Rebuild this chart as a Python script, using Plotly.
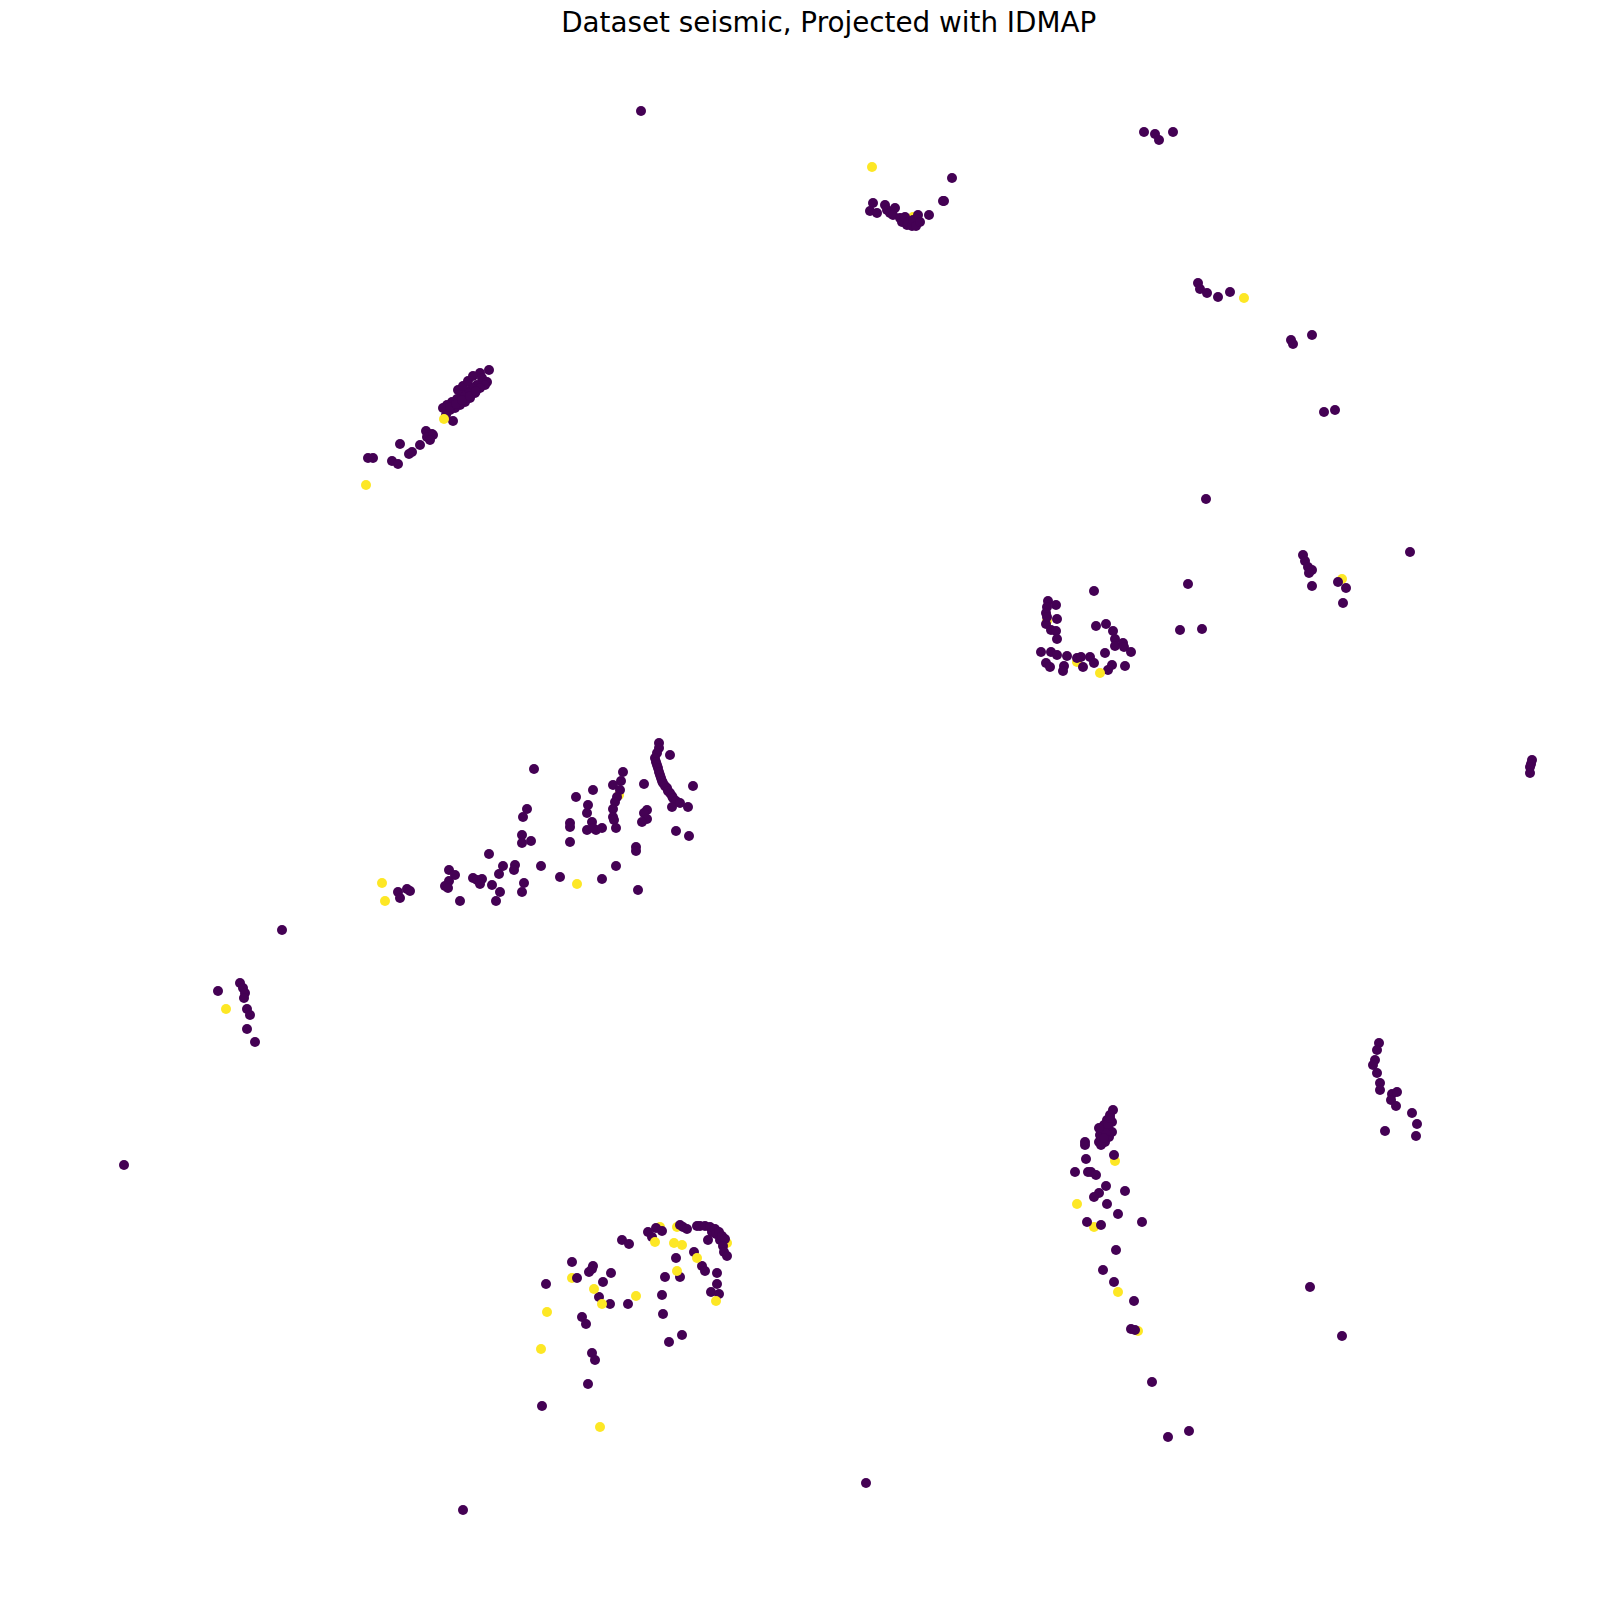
import plotly.graph_objects as go

# Projected coordinates (IDMAP); class 0 = purple, class 1 = yellow
x_c0 = [641, 1144, 1155, 1159, 1173,
        873, 870, 877, 885, 887, 890, 895, 893, 900, 902, 905, 907, 908, 912, 913, 916, 918, 920, 929, 943, 952, 944,
        1198, 1200, 1207, 1218, 1230, 1291, 1293, 1312, 1324, 1335, 1206,
        368, 373, 392, 398, 400, 409, 412, 420, 426, 432, 427, 433, 430,
        489, 480, 482, 487, 485, 477, 480, 472, 475, 467, 470, 462, 465, 457, 460, 452, 455, 447, 450, 443, 446, 453,
        458, 463, 468, 473, 450, 456, 462, 470, 476,
        1410, 1303, 1305, 1308, 1312, 1309, 1312, 1338, 1346, 1343, 1188, 1180, 1202, 1094,
        1048, 1047, 1046, 1056, 1057, 1046, 1051, 1056, 1057, 1047,
        1041, 1051, 1057, 1067, 1077, 1081, 1090, 1094, 1083, 1064, 1063, 1046, 1050,
        1108, 1112, 1125, 1105, 1096, 1106, 1113, 1115, 1115, 1123, 1124, 1131,
        1532, 1531, 1530, 1530,
        534, 527, 523, 522, 522, 531, 489, 503, 515, 514, 499, 541,
        449, 455, 449, 445, 448, 473, 477, 482, 480, 492, 500, 496, 524, 522, 460,
        407, 410, 398, 400, 282,
        240, 243, 245, 244, 218, 247, 250, 247, 255,
        560, 602, 616, 638, 636, 636, 570, 570, 570, 576, 588, 587, 593, 592, 587, 596, 602, 593,
        623, 621, 613, 620, 617, 615, 613, 613, 614, 616,
        644, 647, 644, 647, 642, 676, 689, 693, 670,
        659, 659, 657, 655, 656, 657, 658, 659, 660, 661, 662, 663, 665, 667, 668, 670, 672, 673, 676, 672, 680, 688,
        124, 463, 866,
        546, 542, 588, 592, 595, 582, 586, 572, 577, 589, 593, 592, 611, 603, 599, 610, 628, 622, 629,
        648, 652, 656, 662, 680, 683, 687, 676, 680, 665, 662, 663, 682, 669,
        697, 700, 705, 710, 712, 715, 716, 719, 720, 722, 725, 723, 724, 727, 708, 694, 702, 705, 717, 717, 711, 719,
        1379, 1377, 1375, 1373, 1377, 1380, 1380, 1392, 1397, 1391, 1396, 1412, 1417, 1385, 1416,
        1310, 1342,
        1113, 1110, 1107, 1104, 1102, 1100, 1099, 1105, 1109, 1112, 1108, 1103, 1112, 1101, 1106,
        1104, 1108, 1099, 1110,
        1085, 1085, 1114, 1086, 1075, 1088, 1091, 1096, 1106, 1125, 1099, 1094, 1107, 1118, 1087, 1101,
        1142, 1116, 1103, 1114, 1134, 1131, 1135, 1152, 1168, 1189]
y_c0 = [111, 132, 134, 140, 132,
        203, 211, 213, 205, 210, 213, 208, 215, 218, 222, 217, 225, 222, 226, 220, 226, 215, 222, 215, 201, 178, 201,
        283, 289, 293, 297, 292, 340, 344, 335, 412, 410, 499,
        458, 458, 461, 464, 444, 454, 452, 445, 431, 434, 437, 435, 440,
        370, 373, 378, 382, 385, 385, 388, 388, 393, 392, 398, 395, 402, 399, 405, 402, 408, 405, 410, 408, 415, 421,
        390, 386, 381, 376, 407, 404, 400, 396, 391,
        552, 555, 561, 567, 570, 573, 586, 582, 588, 603, 584, 630, 629, 591,
        601, 607, 613, 605, 619, 624, 630, 631, 639, 617,
        652, 652, 655, 656, 658, 657, 657, 663, 667, 666, 671, 663, 667,
        670, 665, 666, 653, 626, 624, 631, 639, 646, 643, 647, 652,
        760, 764, 767, 773,
        769, 809, 817, 835, 843, 841, 854, 866, 865, 870, 874, 866,
        870, 875, 881, 886, 888, 878, 880, 879, 884, 885, 892, 901, 883, 892, 901,
        889, 891, 892, 898, 930,
        983, 988, 993, 998, 991, 1009, 1015, 1029, 1042,
        877, 879, 866, 890, 847, 851, 842, 823, 827, 797, 805, 813, 790, 822, 830, 830, 828, 828,
        772, 781, 785, 790, 797, 802, 809, 817, 820, 828,
        784, 810, 813, 819, 822, 831, 836, 786, 755,
        743, 748, 753, 758, 762, 765, 768, 772, 775, 778, 781, 783, 786, 788, 791, 793, 796, 798, 801, 807, 803, 807,
        1165, 1510, 1483,
        1284, 1406, 1384, 1353, 1360, 1317, 1324, 1262, 1278, 1272, 1266, 1269, 1273, 1282, 1297, 1304, 1304, 1240, 1244,
        1232, 1237, 1228, 1231, 1225, 1227, 1229, 1258, 1277, 1277, 1295, 1314, 1335, 1342,
        1226, 1226, 1226, 1227, 1232, 1229, 1234, 1232, 1240, 1236, 1239, 1246, 1252, 1256, 1240, 1252, 1266, 1271, 1273, 1284, 1292, 1294,
        1043, 1050, 1060, 1065, 1073, 1083, 1090, 1094, 1092, 1100, 1106, 1113, 1124, 1131, 1136,
        1287, 1336,
        1110, 1115, 1120, 1125, 1130, 1135, 1142, 1142, 1137, 1132, 1128, 1132, 1122, 1145, 1133,
        1138, 1124, 1128, 1118,
        1142, 1145, 1155, 1159, 1172, 1172, 1172, 1175, 1186, 1191, 1193, 1197, 1204, 1214, 1222, 1225,
        1222, 1250, 1270, 1282, 1301, 1329, 1330, 1382, 1437, 1431]

# class 1 points that sit beneath class-0 points
x_c1_under = [619, 1047, 1077, 913, 572, 660, 677, 727, 1115, 1094, 1138, 1342]
y_c1_under = [795, 621, 662, 217, 1278, 1227, 1227, 1243, 1161, 1227, 1331, 579]

# class 1 points drawn on top
x_c1 = [872, 1244, 366, 444, 382, 385, 226, 577, 1100,
        547, 541, 600, 594, 602, 636, 655, 674, 682, 677, 697, 716,
        1077, 1118]
y_c1 = [167, 298, 485, 419, 883, 901, 1009, 884, 673,
        1312, 1349, 1427, 1289, 1304, 1296, 1242, 1243, 1245, 1271, 1258, 1301,
        1204, 1292]

PURPLE = "#440154"
YELLOW = "#fde725"
MSIZE = 10

fig = go.Figure()
fig.add_trace(go.Scatter(x=x_c1_under, y=y_c1_under, mode="markers",
                         marker=dict(color=YELLOW, size=MSIZE, line=dict(width=0))))
fig.add_trace(go.Scatter(x=x_c0, y=y_c0, mode="markers",
                         marker=dict(color=PURPLE, size=MSIZE, line=dict(width=0))))
fig.add_trace(go.Scatter(x=x_c1, y=y_c1, mode="markers",
                         marker=dict(color=YELLOW, size=MSIZE, line=dict(width=0))))

fig.update_layout(
    width=1616, height=1614,
    margin=dict(l=0, r=0, t=0, b=0),
    paper_bgcolor="white", plot_bgcolor="white",
    showlegend=False,
    title=dict(text="Dataset seismic, Projected with IDMAP",
               x=828.7 / 1616, xanchor="center", xref="paper",
               y=1 - 22 / 1614, yanchor="middle", yref="container",
               font=dict(family="DejaVu Sans", size=27.8, color="black")),
    xaxis=dict(range=[0, 1616], visible=False, fixedrange=True),
    yaxis=dict(range=[1614, 0], visible=False, fixedrange=True),
)

fig.write_html("out.html")
